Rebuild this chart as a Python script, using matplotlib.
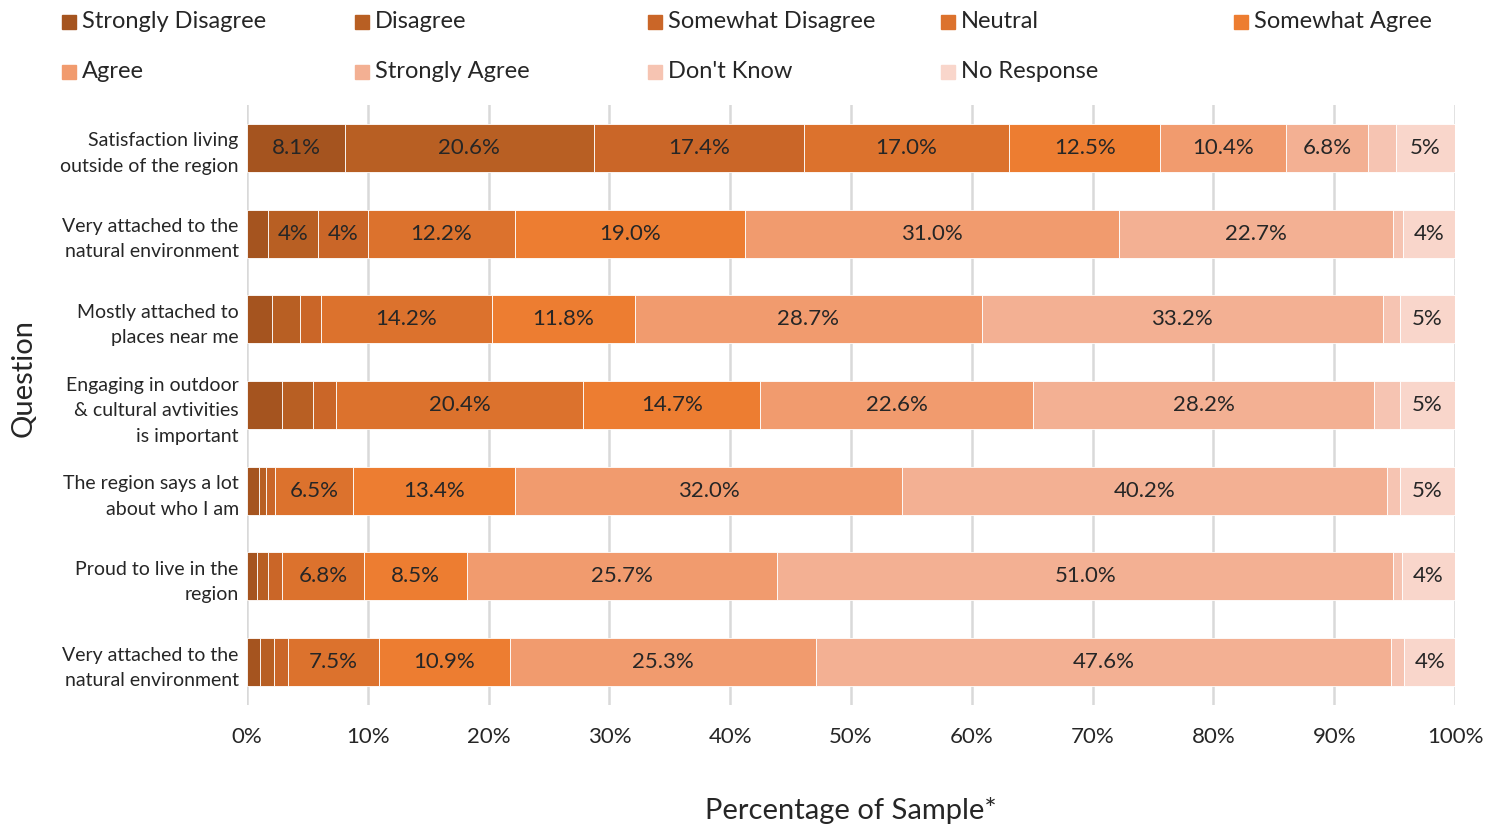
import matplotlib.pyplot as plt
from matplotlib.patches import Rectangle
from matplotlib import font_manager
import numpy as np

names = {f.name for f in font_manager.fontManager.ttflist}
font = "Lato" if "Lato" in names else "DejaVu Sans"
plt.rcParams["font.family"] = [font, "DejaVu Sans"]

questions = ["Satisfaction living\noutside of the region",
             "Very attached to the\nnatural environment",
             "Mostly attached to\nplaces near me",
             "Engaging in outdoor\n& cultural avtivities\nis important",
             "The region says a lot\nabout who I am",
             "Proud to live in the\nregion",
             "Very attached to the\nnatural environment"]

categories = ["Strongly Disagree", "Disagree", "Somewhat Disagree", "Neutral", "Somewhat Agree",
              "Agree", "Strongly Agree", "Don't Know", "No Response"]

# percentages per question, in category order
strongly_disagree = [8.1, 1.7, 2.1, 2.9, 1.0, 0.8, 1.1]
disagree          = [20.6, 4.2, 2.3, 2.6, 0.6, 0.9, 1.1]
somewhat_disagree = [17.4, 4.1, 1.7, 1.9, 0.7, 1.2, 1.2]
neutral           = [17.0, 12.2, 14.2, 20.4, 6.5, 6.8, 7.5]
somewhat_agree    = [12.5, 19.0, 11.8, 14.7, 13.4, 8.5, 10.9]
agree             = [10.4, 31.0, 28.7, 22.6, 32.0, 25.7, 25.3]
strongly_agree    = [6.8, 22.7, 33.2, 28.2, 40.2, 51.0, 47.6]
dont_know         = [2.3, 0.8, 1.4, 2.1, 1.0, 0.7, 1.1]
no_response       = [4.9, 4.3, 4.6, 4.6, 4.6, 4.4, 4.2]

series = [strongly_disagree, disagree, somewhat_disagree, neutral, somewhat_agree,
          agree, strongly_agree, dont_know, no_response]
colors = ["#A5541F", "#B85F23", "#CA6628", "#DC722D", "#ED7D31",
          "#F19B6E", "#F3B093", "#F6C4B2", "#F9D6CB"]

fig = plt.figure(figsize=(14.99, 8.25), dpi=100)
ax = fig.add_axes([0.1648, 0.1455, 0.8059, 0.7272])

y = np.arange(len(questions))
left = np.zeros(len(questions))
for vals, col in zip(series, colors):
    vals = np.array(vals)
    bars = ax.barh(y, vals, left=left, height=0.56, color=col, edgecolor="white",
                   linewidth=0.6, zorder=3)
    labels = []
    for v in vals:
        if v < 3:
            labels.append("")
        elif v < 5:
            labels.append("{:.0f}%".format(v))
        else:
            labels.append("{:.1f}%".format(v))
    ax.bar_label(bars, labels=labels, label_type="center", fontsize=16, color="#262626")
    left += vals

ax.set_xlim(0, 100)
ax.set_ylim(len(questions) - 0.5, -0.5)
ax.set_xticks(np.arange(0, 101, 10))
ax.set_xticklabels(["{}%".format(t) for t in range(0, 101, 10)])
ax.set_yticks(y)
ax.set_yticklabels(questions, fontsize=14, color="#262626", linespacing=1.6)
ax.tick_params(axis="x", length=0, pad=16, labelsize=16, labelcolor="#262626")
ax.tick_params(axis="y", length=0, pad=6)
ax.grid(axis="x", color="#D9D9D9", linewidth=1.8, zorder=0)
for s in ax.spines.values():
    s.set_visible(False)

ax.set_xlabel("Percentage of Sample*", fontsize=21, color="#262626", labelpad=36)
ax.set_ylabel("Question", fontsize=21, color="#262626")
ax.yaxis.set_label_coords(-0.174, 0.545)

# legend: 5 evenly spaced columns, 2 rows
for i, (name, col) in enumerate(zip(categories, colors)):
    cx = (62 + 293 * (i % 5)) / 1499
    cy = 1 - (22 + 50 * (i // 5)) / 825
    fig.patches.append(Rectangle((cx, cy - 7 / 825), 14 / 1499, 14 / 825,
                                 transform=fig.transFigure, color=col))
    fig.text(cx + 20 / 1499, cy, name, fontsize=17, color="#262626", va="center", ha="left")

fig.savefig("out.png", dpi=100)
